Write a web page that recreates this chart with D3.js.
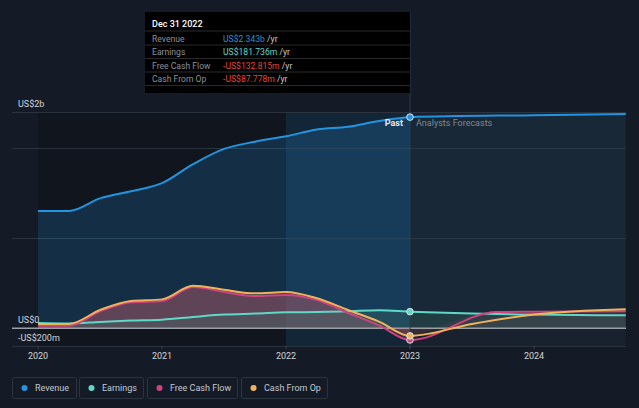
<!DOCTYPE html>
<html><head><meta charset="utf-8">
<script src="https://cdn.jsdelivr.net/npm/d3@7/dist/d3.min.js"></script>
<style>
html,body{margin:0;padding:0;background:#151b26;}
svg{display:block;font-family:Roboto,"Noto Sans",sans-serif;}
</style></head><body>
<svg id="c" width="639" height="408"></svg>
<script>
// ---- data (values in US$ millions, dates as decimal years) ----
const revenuePast = [[2020.0,1300],[2020.25,1300],[2020.5,1440],[2020.75,1520],[2021.0,1610],[2021.25,1820],[2021.5,1990],[2021.75,2070],[2022.0,2130],[2022.25,2205],[2022.5,2235],[2022.75,2300],[2023.0,2343]];
const revenueFcst = [[2023.0,2343],[2024.0,2365],[2024.74,2378]];
const earningsPast = [[2020.0,55],[2020.25,50],[2020.5,67],[2020.75,82],[2021.0,93],[2021.25,122],[2021.5,149],[2021.75,160],[2022.0,174],[2022.25,178],[2022.5,186],[2022.75,196],[2023.0,181.7]];
const earningsFcst = [[2023.0,181.7],[2023.5,160],[2024.0,149],[2024.74,141]];
const fcfPast = [[2020.0,25],[2020.25,25],[2020.5,185],[2020.75,285],[2021.0,300],[2021.25,455],[2021.5,400],[2021.75,355],[2022.0,367],[2022.25,310],[2022.5,170],[2022.75,30],[2023.0,-132.8]];
const fcfFcst = [[2023.0,-132.8],[2023.7,178],[2024.0,180],[2024.74,186]];
const cfoPast = [[2020.0,45],[2020.25,45],[2020.5,200],[2020.75,300],[2021.0,318],[2021.25,470],[2021.5,425],[2021.75,385],[2022.0,400],[2022.25,330],[2022.5,200],[2022.75,70],[2023.0,-87.8]];
const cfoFcst = [[2023.0,-87.8],[2023.5,45],[2024.0,149],[2024.74,208]];
const xTicks = [2020,2021,2022,2023,2024];
const yGrid = [2400,2000,1000,0,-200];
const yLabels = [["US$2b",2400],["US$0",0],["-US$200m",-200]];
const seriesNames = ["Revenue","Earnings","Free Cash Flow","Cash From Op"];
const seriesColors = ["#2394df","#5fd8c6","#d0437f","#f0b35a"];
const tipTitle = "Dec 31 2022";
const tipValues = ["US$2.343b","US$181.736m","-US$132.815m","-US$87.778m"];
const tipColors = ["#2b8fd8","#5fd8c6","#e8443a","#e8443a"];
const nowYear = 2023.0;

const svg = d3.select("#c");
const x = d3.scaleLinear().domain([2020,2025]).range([38,658]);
const y = d3.scaleLinear().domain([-200,2400]).range([346,112]);
const x0 = x(2020), xNow = x(nowYear), xEnd = x(2024.74), xHi = x(2022);
const yTop = y(2400), yBot = y(-200);

// background regions
svg.append("rect").attr("x",x0).attr("y",yTop).attr("width",xNow-x0).attr("height",yBot-yTop).attr("fill","#11161e");
svg.append("rect").attr("x",xHi).attr("y",yTop).attr("width",xNow-xHi).attr("height",yBot-yTop).attr("fill","#2394df").attr("fill-opacity",0.13);
svg.append("rect").attr("x",xNow).attr("y",yTop).attr("width",xEnd-xNow).attr("height",yBot-yTop).attr("fill","#18212d");

// clip paths
const defs = svg.append("defs");
defs.append("clipPath").attr("id","past").append("rect").attr("x",x0).attr("y",0).attr("width",xNow-x0).attr("height",408);
defs.append("clipPath").attr("id","fcst").append("rect").attr("x",xNow).attr("y",0).attr("width",xEnd-xNow+1).attr("height",408);

const line = d3.line().x(d=>x(d[0])).y(d=>y(d[1])).curve(d3.curveMonotoneX);
const area = d3.area().x(d=>x(d[0])).y0(y(0)).y1(d=>y(d[1])).curve(d3.curveMonotoneX);

// gridlines
svg.append("g").selectAll("line").data(yGrid).join("line")
  .attr("x1",12).attr("x2",xEnd).attr("y1",d=>y(d)).attr("y2",d=>y(d))
  .attr("stroke",d=>d===0?"#9aa0a8":"#2a323e").attr("stroke-width",1).attr("shape-rendering","crispEdges");

// area fills
const fills = [
  [revenuePast,revenueFcst,seriesColors[0],0.2,0.06],
  [fcfPast,fcfFcst,seriesColors[2],0.3,0.1],
  [cfoPast,cfoFcst,seriesColors[3],0.12,0.06],
  [earningsPast,earningsFcst,"#3c6e64",0.35,0.3]
];
fills.forEach(([p,f,c,op,of])=>{
  svg.append("path").attr("d",area(p)).attr("fill",c).attr("fill-opacity",op).attr("clip-path","url(#past)");
  svg.append("path").attr("d",area(f)).attr("fill",c).attr("fill-opacity",of).attr("clip-path","url(#fcst)");
});
// redraw zero line on top of fills
svg.append("line").attr("x1",12).attr("x2",xEnd).attr("y1",y(0)).attr("y2",y(0)).attr("stroke","#9aa0a8").attr("stroke-width",1.2);

// now line
svg.append("line").attr("x1",xNow).attr("x2",xNow).attr("y1",12).attr("y2",yBot+3).attr("stroke","#2c3c4e").attr("stroke-width",1);

// lines
const lineSets = [[earningsPast,earningsFcst,1],[fcfPast,fcfFcst,2],[cfoPast,cfoFcst,3],[revenuePast,revenueFcst,0]];
lineSets.forEach(([p,f,i])=>{
  svg.append("path").attr("d",line(p.concat(f.slice(1)))).attr("fill","none").attr("stroke",seriesColors[i]).attr("stroke-width",2);
});

// markers at now
const nowVals = [[revenuePast,0],[earningsPast,1],[fcfPast,2],[cfoPast,3]];
nowVals.forEach(([s,i])=>{
  const d = s[s.length-1];
  svg.append("circle").attr("cx",x(d[0])).attr("cy",y(d[1])).attr("r",3.3).attr("fill",seriesColors[i]).attr("stroke","#d8e2ea").attr("stroke-width",1);
});

// past / forecast labels
svg.append("text").attr("x",xNow-7).attr("y",y(2343)+9).attr("text-anchor","end").attr("font-size",9).attr("font-weight",700).attr("fill","#e6e9ed").text("Past");
svg.append("text").attr("x",xNow+6).attr("y",y(2343)+9).attr("font-size",9).attr("fill","#7f8893").text("Analysts Forecasts");

// y labels
yLabels.forEach(([t,v])=>{
  svg.append("text").attr("x",18).attr("y",y(v)-(v===2400?5:5)).attr("font-size",9).attr("fill","#d0d4d9").text(t);
});

// x axis
svg.append("g").selectAll("text").data(xTicks).join("text")
  .attr("x",d=>x(d)).attr("y",359).attr("text-anchor","middle").attr("font-size",9).attr("fill","#d0d4d9").text(d=>d);
svg.append("g").selectAll("line").data(xTicks).join("line")
  .attr("x1",d=>x(d)).attr("x2",d=>x(d)).attr("y1",yBot).attr("y2",yBot+3).attr("stroke","#3a4350");

// tooltip
const tip = svg.append("g");
tip.append("rect").attr("x",145).attr("y",12).attr("width",xNow-145).attr("height",81).attr("fill","#000");
tip.append("text").attr("x",152).attr("y",27).attr("font-size",9).attr("font-weight",500).attr("fill","#fff").text(tipTitle);
[31,45,58.5,72,85.5].forEach(yy=>tip.append("line").attr("x1",145).attr("x2",xNow).attr("y1",yy).attr("y2",yy).attr("stroke","#2a2a2a").attr("stroke-width",1));
seriesNames.forEach((n,i)=>{
  const yy = 41.5+i*13.5;
  tip.append("text").attr("x",152).attr("y",yy).attr("font-size",8.6).attr("fill","#8c9198").text(n);
  const t = tip.append("text").attr("x",223).attr("y",yy).attr("font-size",8.6);
  t.append("tspan").attr("fill",tipColors[i]).text(tipValues[i]);
  t.append("tspan").attr("fill","#c8ccd2").text(" /yr");
});

// legend
const legX = [12,79,147,241], legW = [64,64,90,86];
seriesNames.forEach((n,i)=>{
  const g = svg.append("g");
  g.append("rect").attr("x",legX[i]+0.5).attr("y",377.5).attr("width",legW[i]).attr("height",21).attr("rx",2).attr("fill","none").attr("stroke","#2c3440");
  g.append("circle").attr("cx",legX[i]+12.5).attr("cy",386.5+1.5).attr("r",3).attr("fill",seriesColors[i]);
  g.append("text").attr("x",legX[i]+23).attr("y",391).attr("font-size",9).attr("fill","#c3c8ce").text(n);
});
</script>
</body></html>
